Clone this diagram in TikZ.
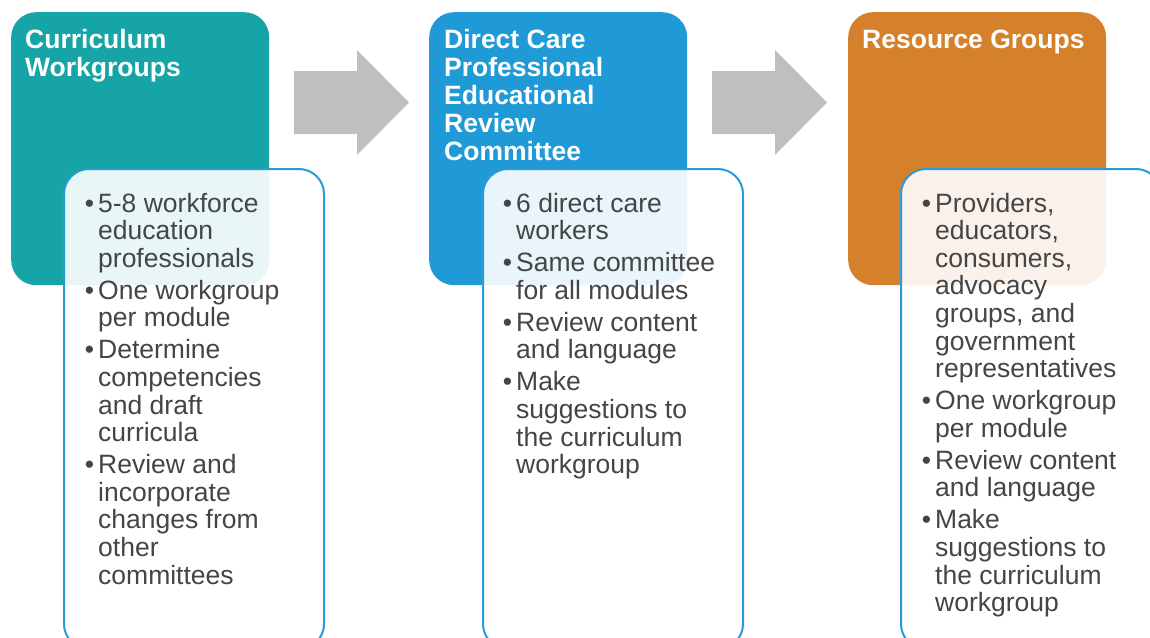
\documentclass[tikz,border=0pt]{standalone}
\usepackage{fontspec}
\setmainfont{Liberation Sans}
\definecolor{tealbox}{HTML}{16A4A6}
\definecolor{bluebox}{HTML}{1F9AD6}
\definecolor{orangebox}{HTML}{D5802A}
\definecolor{arrowgray}{HTML}{BFBFBF}
\definecolor{outlineblue}{HTML}{2A9BD8}
\definecolor{bodygray}{HTML}{454545}
\newcommand{\bul}{\leavevmode\makebox[0pt][r]{•\hspace{4pt}}}
\begin{document}
\begin{tikzpicture}[x=1pt,y=-1pt,
  headbox/.style={rectangle, rounded corners=25pt, inner sep=0pt, anchor=north west,
    minimum width=258pt, minimum height=273pt},
  listbox/.style={rectangle, rounded corners=25pt, inner sep=0pt, anchor=north west,
    draw=outlineblue, line width=2pt, fill=white, fill opacity=0.9,
    minimum width=260pt, minimum height=480pt},
  titletext/.style={anchor=base west, inner sep=0pt, text=white,
    font=\fontsize{26.5}{28}\selectfont\bfseries},
  bodytext/.style={anchor=base west, inner sep=0pt, text=bodygray,
    font=\fontsize{26.5}{27.6}\selectfont},
  blockarrow/.style={fill=arrowgray}]
\useasboundingbox (0,0) rectangle (1150,637);
\clip (0,0) rectangle (1150,637);

% column 1
\node[headbox, fill=tealbox] (h1) at (11,12) {};
\node[titletext] (t1) at (25,48) {\parbox[t]{240pt}{\raggedright Curriculum\\Workgroups}};
\node[listbox] (l1) at (63,168) {};
\node[bodytext] (b1) at (98,212) {\parbox[t]{220pt}{\raggedright\bul 5-8 workforce\\education\\professionals\\[4.4pt]\bul One workgroup\\per module\\[4.4pt]\bul Determine\\competencies\\and draft\\curricula\\[4.4pt]\bul Review and\\incorporate\\changes from\\other\\committees}};

% arrow 1
\coordinate (a1) at (294,102.5);
\fill[blockarrow] (a1) ++(0,-31.5) -- ++(63,0) -- ++(0,-21) -- ++(52,52.5) -- ++(-52,52.5) -- ++(0,-21) -- ++(-63,0) -- cycle;

% column 2
\node[headbox, fill=bluebox] (h2) at (429,12) {};
\node[titletext] (t2) at (444,48) {\parbox[t]{240pt}{\raggedright Direct Care\\Professional\\Educational\\Review\\Committee}};
\node[listbox] (l2) at (482,168) {};
\node[bodytext] (b2) at (516,212) {\parbox[t]{220pt}{\raggedright\bul 6 direct care\\workers\\[4.4pt]\bul Same committee\\for all modules\\[4.4pt]\bul Review content\\and language\\[4.4pt]\bul Make\\suggestions to\\the curriculum\\workgroup}};

% arrow 2
\coordinate (a2) at (712,102.5);
\fill[blockarrow] (a2) ++(0,-31.5) -- ++(63,0) -- ++(0,-21) -- ++(52,52.5) -- ++(-52,52.5) -- ++(0,-21) -- ++(-63,0) -- cycle;

% column 3
\node[headbox, fill=orangebox] (h3) at (848,12) {};
\node[titletext] (t3) at (862,48) {\parbox[t]{260pt}{\raggedright Resource Groups}};
\node[listbox] (l3) at (900,168) {};
\node[bodytext] (b3) at (935,212) {\parbox[t]{220pt}{\raggedright\bul Providers,\\educators,\\consumers,\\advocacy\\groups, and\\government\\representatives\\[4.4pt]\bul One workgroup\\per module\\[4.4pt]\bul Review content\\and language\\[4.4pt]\bul Make\\suggestions to\\the curriculum\\workgroup}};
\end{tikzpicture}
\end{document}
